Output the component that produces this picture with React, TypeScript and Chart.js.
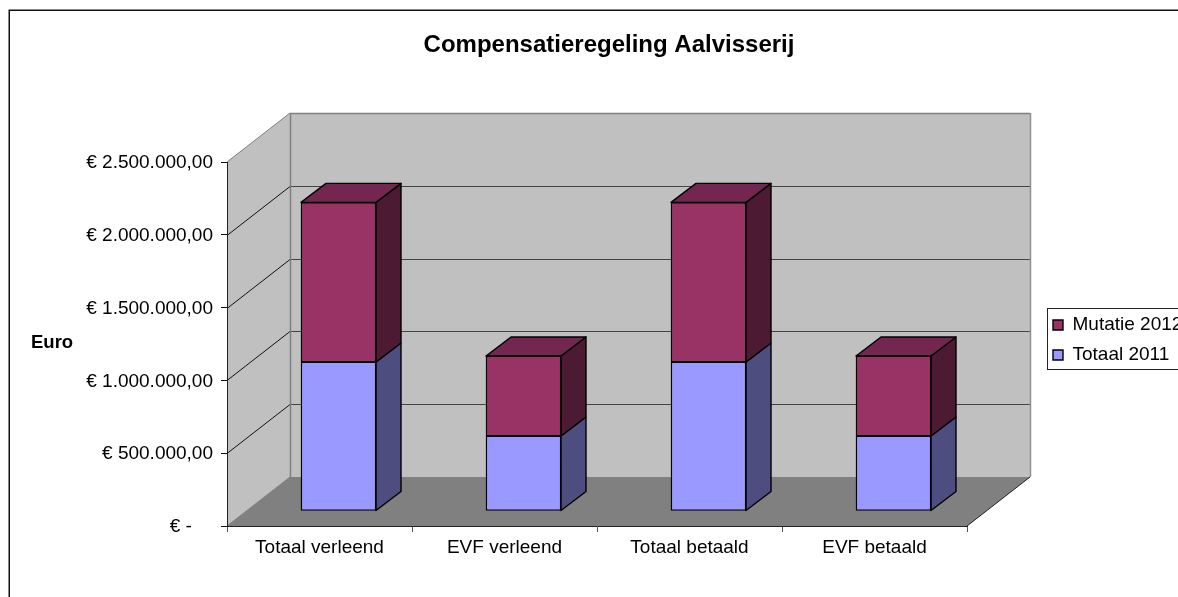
import React, { useEffect, useRef } from "react";
import { Chart, registerables } from "chart.js";

Chart.register(...registerables);

const categories = ["Totaal verleend", "EVF verleend", "Totaal betaald", "EVF betaald"];
const totaal2011 = [1023000, 515000, 1023000, 515000];
const mutatie2012 = [1097000, 550000, 1097000, 550000];
const yTicks = [0, 500000, 1000000, 1500000, 2000000, 2500000];
const tickLabels = ["€ -    ", "€ 500.000,00", "€ 1.000.000,00", "€ 1.500.000,00", "€ 2.000.000,00", "€ 2.500.000,00"];

const FONT = "'Liberation Sans', Arial, sans-serif";
const WALL_DX = 63;
const WALL_DY = -49;
const BAR_SHIFT_X = 19;
const BAR_SHIFT_Y = -15;
const BAR_DX = 25;
const BAR_DY = -19;

function poly(ctx: CanvasRenderingContext2D, pts: number[][], fill: string | null, stroke: string | null, lw = 1) {
  ctx.beginPath();
  pts.forEach((p, i) => (i ? ctx.lineTo(p[0], p[1]) : ctx.moveTo(p[0], p[1])));
  ctx.closePath();
  if (fill) {
    ctx.fillStyle = fill;
    ctx.fill();
  }
  if (stroke) {
    ctx.strokeStyle = stroke;
    ctx.lineWidth = lw;
    ctx.lineJoin = "round";
    ctx.stroke();
  }
}

function seg(ctx: CanvasRenderingContext2D, x1: number, y1: number, x2: number, y2: number, color: string, lw = 1) {
  ctx.beginPath();
  ctx.moveTo(x1, y1);
  ctx.lineTo(x2, y2);
  ctx.strokeStyle = color;
  ctx.lineWidth = lw;
  ctx.stroke();
}

const scene3d = {
  id: "scene3d",
  beforeLayout(chart: any) {
    const l = chart.legend;
    if (!l.__patched) {
      const fit = l.fit;
      l.fit = function () {
        fit.call(this);
        this.width = 211;
      };
      l.__patched = true;
    }
  },
  afterLayout(chart: any) {
    const t = chart.titleBlock;
    t.left = 309;
    t.right = 909;
    const l = chart.legend;
    l.left = 1042;
    l.right = 1178;
    l.top = 304.5;
    l.bottom = 597;
  },
  beforeDraw(chart: any) {
    const ctx: CanvasRenderingContext2D = chart.ctx;
    const { left, right, top, bottom } = chart.chartArea;
    const yScale = chart.scales.y;
    ctx.save();
    ctx.fillStyle = "#fff";
    ctx.fillRect(0, 0, chart.width, chart.height);
    ctx.strokeStyle = "#111";
    ctx.lineWidth = 1.5;
    ctx.strokeRect(9.25, 10.25, 1400, 800);

    const bx = WALL_DX;
    const by = WALL_DY;
    // back wall, side wall, floor
    poly(ctx, [[left + bx, top + by], [right + bx, top + by], [right + bx, bottom + by], [left + bx, bottom + by]], "#C0C0C0", null);
    poly(ctx, [[left, top], [left + bx, top + by], [left + bx, bottom + by], [left, bottom]], "#C0C0C0", null);
    poly(ctx, [[left, bottom], [left + bx, bottom + by], [right + bx, bottom + by], [right, bottom]], "#808080", null);
    // value gridlines on the walls
    yTicks.slice(1, -1).forEach((v) => {
      const y = Math.round(yScale.getPixelForValue(v)) + 0.5;
      seg(ctx, left, y, left + bx, y + by, "#111");
      seg(ctx, left + bx, y + by, right + bx, y + by, "#444");
    });
    // outlines of the box
    seg(ctx, left, top, left + bx, top + by, "#808080", 1);
    seg(ctx, left + bx, top + by + 0.5, right + bx, top + by + 0.5, "#808080", 1.5);
    seg(ctx, left + bx + 0.5, top + by, left + bx + 0.5, bottom + by, "#808080", 1.5);
    seg(ctx, right + bx + 0.5, top + by, right + bx + 0.5, bottom + by, "#909090", 1.5);
    seg(ctx, left, bottom, left + bx, bottom + by, "#808080", 1);
    seg(ctx, right, bottom, right + bx, bottom + by, "#222", 1);

    // legend frame
    ctx.fillStyle = "#fff";
    ctx.fillRect(1047.5, 308.5, 200, 61);
    ctx.strokeStyle = "#222";
    ctx.lineWidth = 1;
    ctx.strokeRect(1047.5, 308.5, 200, 61);

    // value axis title (horizontal, which the scale title cannot do)
    ctx.fillStyle = "#000";
    ctx.font = `bold 18.5px ${FONT}`;
    ctx.textAlign = "left";
    ctx.textBaseline = "middle";
    ctx.fillText("Euro", 31, 343);
    ctx.restore();
  },
  beforeDatasetsDraw(chart: any) {
    const ctx: CanvasRenderingContext2D = chart.ctx;
    const sides = ["#4D4D80", "#4D1A33"];
    const tops = ["#7A7ACC", "#732650"];
    ctx.save();
    ctx.translate(BAR_SHIFT_X, BAR_SHIFT_Y);
    chart.data.datasets.forEach((_: any, di: number) => {
      chart.getDatasetMeta(di).data.forEach((el: any) => {
        const { x, y, base, width } = el.getProps(["x", "y", "base", "width"], true);
        const r = x + width / 2;
        const l = x - width / 2;
        poly(ctx, [[r, y], [r + BAR_DX, y + BAR_DY], [r + BAR_DX, base + BAR_DY], [r, base]], sides[di], "#000", 1.4);
        if (di === chart.data.datasets.length - 1) {
          poly(ctx, [[l, y], [l + BAR_DX, y + BAR_DY], [r + BAR_DX, y + BAR_DY], [r, y]], tops[di], "#000", 1.4);
        }
      });
    });
    ctx.restore();
  },
  beforeDatasetDraw(chart: any) {
    chart.ctx.save();
    chart.ctx.translate(BAR_SHIFT_X, BAR_SHIFT_Y);
  },
  afterDatasetDraw(chart: any) {
    chart.ctx.restore();
  },
};

export default function App() {
  const ref = useRef<HTMLCanvasElement>(null);
  useEffect(() => {
    if (!ref.current) return;
    const chart = new Chart(ref.current, {
      type: "bar",
      plugins: [scene3d],
      data: {
        labels: categories,
        datasets: [
          { label: "Totaal 2011", data: totaal2011, backgroundColor: "#9999FF", borderColor: "#000", borderWidth: 1.4, borderSkipped: false, clip: false },
          { label: "Mutatie 2012", data: mutatie2012, backgroundColor: "#993366", borderColor: "#000", borderWidth: 1.4, borderSkipped: false, clip: false },
        ] as any,
      },
      options: {
        responsive: false,
        animation: false,
        events: [],
        datasets: { bar: { barThickness: 75 } },
        plugins: {
          tooltip: { enabled: false },
          title: {
            display: true,
            text: "Compensatieregeling Aalvisserij",
            color: "#000",
            font: { family: FONT, size: 24, weight: "bold", lineHeight: 1.2 },
            padding: { top: 30.6, bottom: 102.6 },
          },
          legend: {
            position: "right",
            align: "start",
            reverse: true,
            labels: {
              boxWidth: 10,
              boxHeight: 10,
              padding: 11,
              color: "#000",
              font: { family: FONT, size: 19 },
            },
          },
        },
        scales: {
          x: {
            stacked: true,
            offset: true,
            afterFit: (s: any) => { s.height = 71; },
            border: { color: "#222", width: 1 },
            grid: { offset: true, drawOnChartArea: false, drawTicks: true, tickLength: 6, color: "#555" },
            ticks: { color: "#000", maxRotation: 0, autoSkip: false, padding: 4, font: { family: FONT, size: 19 } },
          },
          y: {
            stacked: true,
            min: 0,
            max: 2500000,
            afterFit: (s: any) => { s.width = 227; },
            afterBuildTicks: (s: any) => { s.ticks = yTicks.map((value) => ({ value })); },
            border: { color: "#222", width: 1 },
            grid: { drawOnChartArea: false, drawTicks: true, tickLength: 6, color: "#111" },
            ticks: {
              color: "#000",
              padding: 8,
              labelOffset: 1,
              autoSkip: false,
              font: { family: FONT, size: 19 },
              callback: (v: any) => tickLabels[yTicks.indexOf(Number(v))],
            },
          },
        },
      } as any,
    });
    return () => chart.destroy();
  }, []);
  return (
    <div style={{ position: "absolute", left: 0, top: 0 }}>
      <canvas ref={ref} width={1178} height={597} style={{ display: "block" }} />
    </div>
  );
}
